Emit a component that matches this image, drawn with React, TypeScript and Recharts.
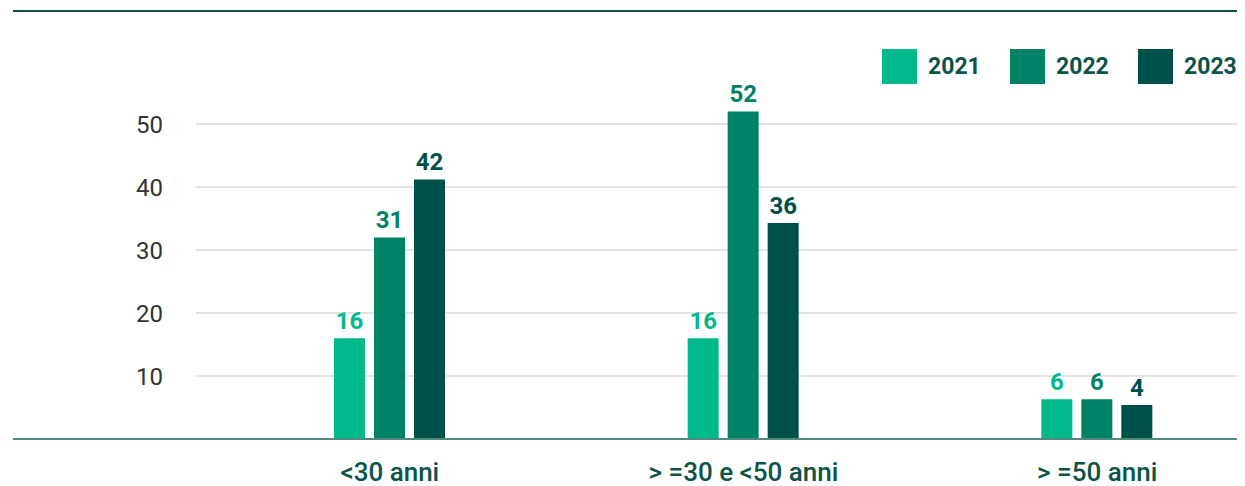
import { Bar, BarChart, CartesianGrid, LabelList, XAxis, YAxis } from 'recharts'

const categories = ['<30 anni', '> =30 e <50 anni', '> =50 anni']
const years = ['2021', '2022', '2023']

// bar heights as drawn
const values2021 = [16, 16, 6.3]
const values2022 = [32, 52, 6.3]
const values2023 = [41.2, 34.3, 5.4]

// numbers printed above the bars
const labels2021 = ['16', '16', '6']
const labels2022 = ['31', '52', '6']
const labels2023 = ['42', '36', '4']

const yTicks = [10, 20, 30, 40, 50]

const colors = ['#00B98A', '#008266', '#00504A']
const textColor = '#0C5448'
const font = 'Roboto, "Noto Sans", sans-serif'

const chartData = categories.map((name, i) => ({
  name,
  v2021: values2021[i],
  v2022: values2022[i],
  v2023: values2023[i],
  l2021: labels2021[i],
  l2022: labels2022[i],
  l2023: labels2023[i],
}))

const YearLegend = () => (
  <div style={{ position: 'absolute', top: 49, left: 882, display: 'flex', fontFamily: font }}>
    {years.map((y, i) => (
      <div key={y} style={{ display: 'flex', alignItems: 'center', width: 128 }}>
        <div style={{ width: 35, height: 35, background: colors[i] }} />
        <span
          style={{
            marginLeft: 11,
            fontSize: 23,
            fontWeight: 700,
            color: textColor,
          }}
        >
          {y}
        </span>
      </div>
    ))}
  </div>
)

export default function App() {
  return (
    <div
      style={{
        position: 'relative',
        margin: '-8px 0 0 -8px',
        width: 1245,
        height: 486,
        overflow: 'hidden',
        background: '#fff',
      }}
    >
      <div
        style={{
          position: 'absolute',
          top: 10,
          left: 13,
          right: 0,
          height: 2,
          background: '#0C5448',
        }}
      />
      <div
        style={{
          position: 'absolute',
          top: 438,
          left: 13,
          width: 190,
          height: 2,
          background: '#4E8A80',
        }}
      />
      <BarChart
        width={1274}
        height={486}
        data={chartData}
        margin={{ top: 61, right: 0, left: 0, bottom: 0 }}
        barSize={31}
        barGap={9}
      >
        <CartesianGrid
          vertical={false}
          horizontalValues={yTicks}
          stroke="#C8C8C8"
          strokeWidth={1.2}
        />
        <XAxis
          dataKey="name"
          height={47}
          padding={{ left: 17, right: 0 }}
          tickLine={false}
          tickSize={0}
          tickMargin={24}
          axisLine={{ stroke: '#4E8A80', strokeWidth: 2 }}
          tick={{ fill: textColor, fontSize: 26, fontWeight: 500, fontFamily: font }}
          interval={0}
        />
        <YAxis
          width={196}
          domain={[0, 60]}
          ticks={yTicks}
          axisLine={false}
          tickLine={false}
          tickSize={0}
          tickMargin={33}
          tick={{ fill: '#333', fontSize: 24, fontWeight: 400, fontFamily: font }}
        />
        {years.map((y, i) => (
          <Bar key={y} dataKey={`v${y}`} name={y} fill={colors[i]} isAnimationActive={false}>
            <LabelList
              dataKey={`l${y}`}
              position="top"
              offset={9}
              fill={colors[i]}
              style={{ fontSize: 24, fontWeight: 700, fontFamily: font }}
            />
          </Bar>
        ))}
      </BarChart>
      <YearLegend />
    </div>
  )
}
